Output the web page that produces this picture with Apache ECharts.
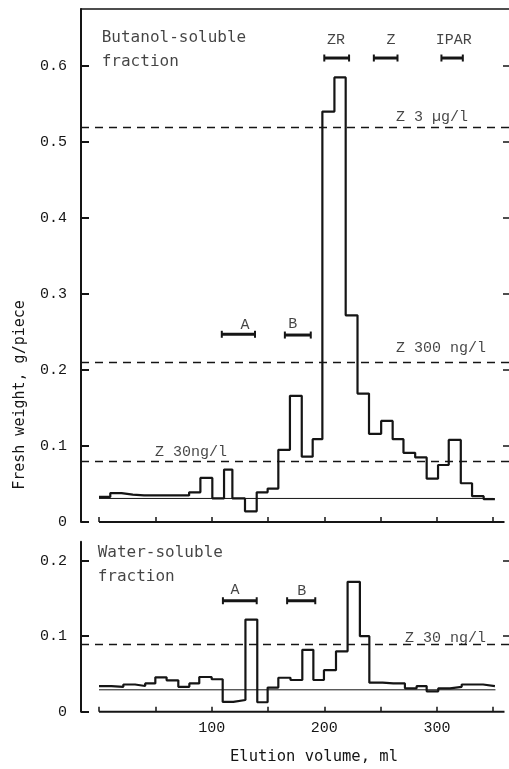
<!DOCTYPE html>
<html>
<head>
<meta charset="utf-8">
<script src="https://cdn.jsdelivr.net/npm/echarts@6/dist/echarts.min.js"></script>
<style>
  html, body { margin: 0; padding: 0; background: #fff; }
  #chart { width: 509px; height: 769px; }
</style>
</head>
<body>
<div id="chart"></div>
<script>
// ---------- DATA ----------
// Butanol-soluble fraction: fraction boundaries (ml) and step heights (g/piece)
const butanolEdges = [0, 10, 20, 30, 40, 50, 60, 70, 80, 90, 100.6, 111, 118.4, 129.6, 140, 149.7, 159.2, 169.5, 180, 189.7, 198.3, 209, 219, 229.5, 239.7, 250.5, 260.7, 270.3, 280.7, 290.9, 301, 310.5, 321.2, 331.2, 341.5, 351.5];
const butanolValues = [0.033, 0.038, 0.036, 0.035, 0.035, 0.035, 0.035, 0.035, 0.039, 0.058, 0.031, 0.069, 0.031, 0.014, 0.039, 0.044, 0.095, 0.166, 0.086, 0.109, 0.540, 0.585, 0.272, 0.169, 0.116, 0.133, 0.109, 0.091, 0.085, 0.057, 0.075, 0.108, 0.051, 0.034, 0.030];

// Water-soluble fraction
const waterEdges = [0, 11, 21.6, 32, 41, 50, 60, 70.4, 80.2, 89, 100, 109.8, 119.2, 130, 140.5, 149.7, 159.2, 170, 180.5, 190.3, 199.7, 210.4, 220.7, 231.6, 240, 251.8, 261.3, 271.6, 282, 290.9, 301.2, 311.6, 322, 332, 341, 351.5];
const waterValues = [0.034, 0.033, 0.036, 0.034, 0.0375, 0.0455, 0.0415, 0.033, 0.0375, 0.046, 0.043, 0.013, 0.0155, 0.122, 0.0125, 0.032, 0.045, 0.042, 0.082, 0.042, 0.055, 0.080, 0.172, 0.100, 0.0385, 0.0375, 0.0375, 0.031, 0.034, 0.027, 0.031, 0.033, 0.036, 0.036, 0.034];

// reference (dashed) levels
const butanolRefLevels = [0.52, 0.214, 0.082];
const waterRefLevels = [0.085];
// thin base lines
const butanolBase = [[0, 0.031], [350, 0.031]];
const waterBase = [[0, 0.029], [352, 0.029]];
const axisBase = [[0, 0], [360, 0]];

// elution ranges of standards / fractions: [name, from ml, to ml, level]
const butanolRanges = [['ZR', 200, 222, 0.6105], ['Z', 244, 265, 0.6105], ['IPAR', 304, 323, 0.6105], ['A', 109, 138.5, 0.247], ['B', 165, 188, 0.246]];
const waterRanges = [['A', 110, 140, 0.147], ['B', 167, 192, 0.147]];

// text notes: [text, x ml, y value]
const butanolTitle = [['Butanol-soluble\nfraction', 2.4, 0.621]];
const waterTitle = [['Water-soluble\nfraction', -1.2, 0.194]];
const butanolRefNotes = [['Z 3 µg/l', 263.6, 0.533], ['Z 300 ng/l', 263.6, 0.2286], ['Z 30ng/l', 49.7, 0.092]];
const waterRefNotes = [['Z 30 ng/l', 271.6, 0.0972]];
const butanolTags = [['ZR', 210.4, 0.634], ['Z', 259.3, 0.634], ['IPAR', 315, 0.634], ['A', 129.6, 0.259], ['B', 172, 0.2605]];
const waterTags = [['A', 120.7, 0.161], ['B', 180, 0.160]];

// ticks
const xTicks = [0, 50, 100, 150, 200, 250, 300, 350];
const xTickLabels = [100, 200, 300];
const butanolYTicks = [0, 0.1, 0.2, 0.3, 0.4, 0.5, 0.6];
const waterYTicks = [0, 0.1, 0.2];

// ---------- OPTION ----------
const INK = '#151515';
const MONO = '"Liberation Mono", monospace';
const SMONO = '"DejaVu Sans Mono", monospace';

function stepData(edges, values) {
  const d = values.map((v, i) => [edges[i], v]);
  d.push([edges[edges.length - 1], values[values.length - 1]]);
  return d;
}

function xAxisDef(gi, showLabels) {
  return {
    type: 'value', gridIndex: gi, min: -16, max: 364,
    axisLine: { show: false, onZero: false },
    splitLine: { show: false },
    axisTick: { show: true, inside: true, length: 5, customValues: xTicks, lineStyle: { color: INK, width: 1.5 } },
    axisLabel: showLabels ? { show: true, customValues: xTickLabels, fontFamily: MONO, fontSize: 15, color: INK, margin: 9 } : { show: false }
  };
}

function yAxisLeft(gi, max, ticks) {
  return {
    type: 'value', gridIndex: gi, min: 0, max: max, position: 'left',
    axisLine: { show: true, onZero: false, lineStyle: { color: INK, width: 2 } },
    splitLine: { show: false },
    axisTick: { show: true, inside: true, length: 8, customValues: ticks, lineStyle: { color: INK, width: 2 } },
    axisLabel: { show: true, customValues: ticks, fontFamily: MONO, fontSize: 15, color: INK, margin: 14,
      formatter: v => (v === 0 ? '0' : v.toFixed(1)) }
  };
}

function yAxisRight(gi, max, ticks) {
  return {
    type: 'value', gridIndex: gi, min: 0, max: max, position: 'right',
    axisLine: { show: false, onZero: false },
    splitLine: { show: false },
    axisTick: { show: true, inside: true, length: 6, customValues: ticks, lineStyle: { color: INK, width: 1.5 } },
    axisLabel: { show: false }
  };
}

function rangeSeries(ranges, xi, yi) {
  return ranges.map(r => ({
    type: 'line', xAxisIndex: xi, yAxisIndex: yi, clip: false, silent: true,
    data: [[r[1], r[3]], [r[2], r[3]]],
    symbol: 'rect', symbolSize: [2, 7], itemStyle: { color: INK },
    lineStyle: { color: INK, width: 3 }
  }));
}

function textSeries(notes, xi, yi, font, size, pos, lineHeight) {
  return {
    type: 'scatter', xAxisIndex: xi, yAxisIndex: yi, silent: true, clip: false,
    symbolSize: 0,
    data: notes.map(n => ({ name: n[0], value: [n[1], n[2]] })),
    label: {
      show: true, formatter: '{b}', position: pos, distance: 0,
      fontFamily: font, fontSize: size, color: INK, lineHeight: lineHeight || size + 2
    }
  };
}

function refLine(levels) {
  return {
    silent: true, symbol: ['none', 'none'], label: { show: false },
    lineStyle: { type: [8, 6], width: 1.3, color: INK },
    data: levels.map(v => ({ yAxis: v }))
  };
}

const option = {
  animation: false,
  backgroundColor: '#fff',
  grid: [
    { left: 81, top: 9, width: 428, height: 513 },
    { left: 81, top: 541.7, width: 428, height: 170 }
  ],
  xAxis: [
    xAxisDef(0, false),
    { type: 'value', gridIndex: 0, position: 'top', min: -16, max: 364,
      axisLine: { show: true, onZero: false, lineStyle: { color: INK, width: 1.5 } },
      axisTick: { show: false }, axisLabel: { show: false }, splitLine: { show: false } },
    xAxisDef(1, true)
  ],
  yAxis: [
    yAxisLeft(0, 0.675, butanolYTicks),
    yAxisRight(0, 0.675, butanolYTicks.slice(1)),
    yAxisLeft(1, 0.2252, waterYTicks),
    yAxisRight(1, 0.2252, waterYTicks.slice(1))
  ],
  graphic: [
    { type: 'text', x: 20, y: 395, rotation: Math.PI / 2,
      style: { text: 'Fresh weight, g/piece', align: 'center', verticalAlign: 'middle', font: '15px "DejaVu Sans Mono"', fill: INK } },
    { type: 'text', x: 314, y: 757,
      style: { text: 'Elution volume, ml', align: 'center', verticalAlign: 'middle', font: '15.5px "DejaVu Sans Mono"', fill: INK } }
  ],
  series: [
    // Butanol panel
    { type: 'line', xAxisIndex: 0, yAxisIndex: 0, step: 'end', symbol: 'none', clip: false,
      data: stepData(butanolEdges, butanolValues), lineStyle: { color: INK, width: 2.2 } },
    { type: 'line', xAxisIndex: 0, yAxisIndex: 0, symbol: 'none', clip: false,
      data: butanolBase, lineStyle: { color: INK, width: 1 }, markLine: refLine(butanolRefLevels) },
    { type: 'line', xAxisIndex: 0, yAxisIndex: 0, symbol: 'none', clip: false,
      data: axisBase, lineStyle: { color: INK, width: 2 } },
    ...rangeSeries(butanolRanges, 0, 0),
    textSeries(butanolTitle, 0, 0, SMONO, 16, 'right', 24),
    textSeries(butanolRefNotes, 0, 0, MONO, 15, 'right'),
    textSeries(butanolTags, 0, 0, MONO, 15, 'inside'),
    // Water panel
    { type: 'line', xAxisIndex: 2, yAxisIndex: 2, step: 'end', symbol: 'none', clip: false,
      data: stepData(waterEdges, waterValues), lineStyle: { color: INK, width: 2.2 } },
    { type: 'line', xAxisIndex: 2, yAxisIndex: 2, symbol: 'none', clip: false,
      data: waterBase, lineStyle: { color: INK, width: 1 }, markLine: refLine(waterRefLevels) },
    { type: 'line', xAxisIndex: 2, yAxisIndex: 2, symbol: 'none', clip: false,
      data: axisBase, lineStyle: { color: INK, width: 2 } },
    ...rangeSeries(waterRanges, 2, 2),
    textSeries(waterTitle, 2, 2, SMONO, 16, 'right', 24),
    textSeries(waterRefNotes, 2, 2, MONO, 15, 'right'),
    textSeries(waterTags, 2, 2, MONO, 15, 'inside')
  ]
};

const chart = echarts.init(document.getElementById('chart'), null, { renderer: 'canvas' });
chart.setOption(option);
</script>
</body>
</html>
